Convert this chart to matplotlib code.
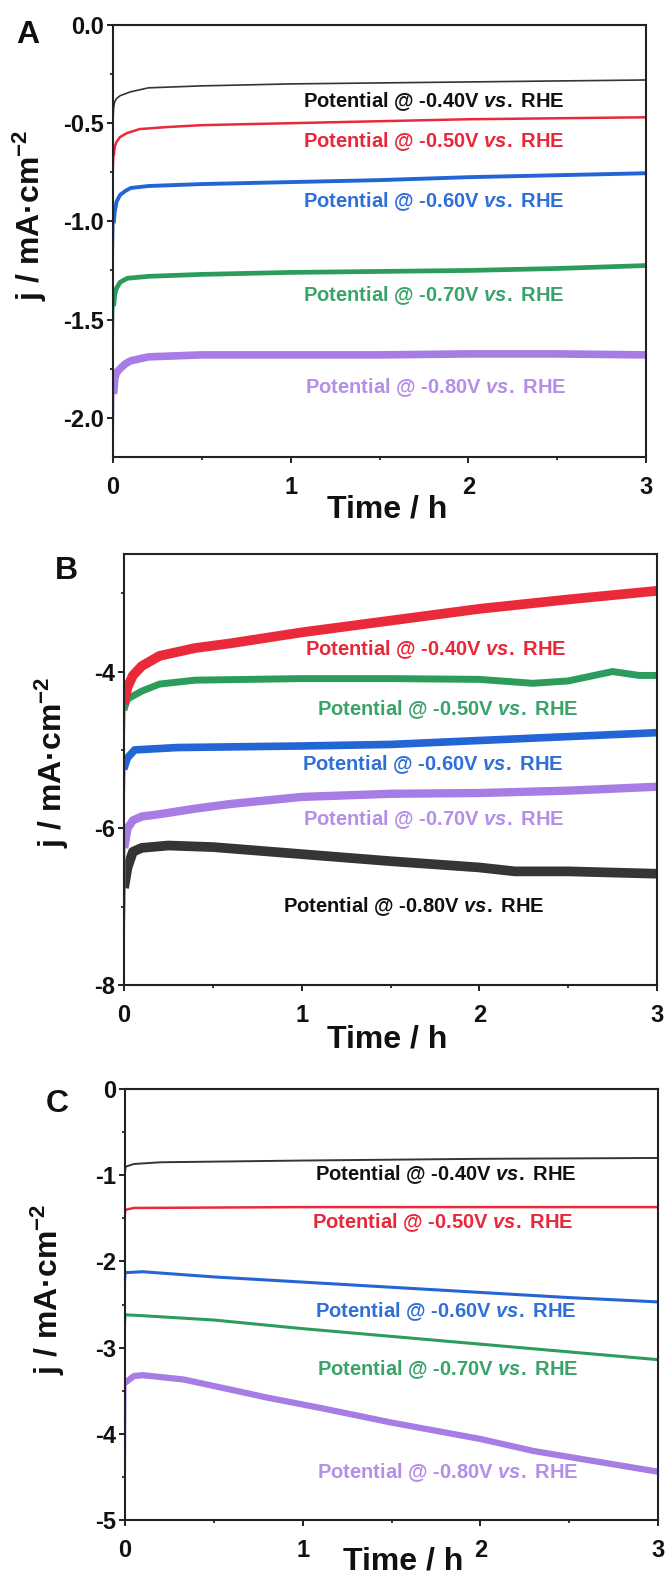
import matplotlib
matplotlib.use("Agg")
import matplotlib.pyplot as plt
from matplotlib.ticker import MultipleLocator, FormatStrFormatter

plt.rcParams['font.family'] = ['Liberation Sans', 'DejaVu Sans']
plt.rcParams['font.weight'] = 'bold'
plt.rcParams['axes.unicode_minus'] = False
plt.rcParams['mathtext.fontset'] = 'custom'
plt.rcParams['mathtext.rm'] = 'Liberation Sans:bold'
plt.rcParams['mathtext.bf'] = 'Liberation Sans:bold'
plt.rcParams['mathtext.it'] = 'Liberation Sans:bold:italic'
plt.rcParams['mathtext.default'] = 'rm'

W, H, DPI = 668, 1578, 100

# ---------------- data: chronoamperometry, current density vs time ----------------
# Panel A
a_black_t = [0, 0.005, 0.01, 0.02, 0.04, 0.07, 0.1, 0.2, 0.5, 1.0, 1.5, 2.0, 2.5, 3.0]
a_black_j = [-0.50, -0.41, -0.39, -0.375, -0.36, -0.35, -0.34, -0.32, -0.31, -0.30, -0.295, -0.29, -0.285, -0.28]
a_red_t = [0, 0.005, 0.01, 0.02, 0.04, 0.08, 0.15, 0.3, 0.5, 1.0, 1.5, 2.0, 2.5, 3.0]
a_red_j = [-0.80, -0.66, -0.62, -0.595, -0.57, -0.55, -0.53, -0.52, -0.51, -0.50, -0.49, -0.48, -0.475, -0.47]
a_blue_t = [0, 0.005, 0.01, 0.02, 0.04, 0.07, 0.1, 0.2, 0.5, 1.0, 1.5, 2.0, 2.5, 3.0]
a_blue_j = [-1.25, -1.00, -0.95, -0.90, -0.865, -0.845, -0.83, -0.82, -0.81, -0.80, -0.79, -0.775, -0.765, -0.755]
a_green_t = [0, 0.005, 0.01, 0.02, 0.04, 0.08, 0.2, 0.5, 1.0, 1.5, 2.0, 2.5, 3.0]
a_green_j = [-1.65, -1.42, -1.37, -1.34, -1.31, -1.29, -1.28, -1.27, -1.26, -1.255, -1.25, -1.24, -1.225]
a_purple_t = [0, 0.005, 0.01, 0.02, 0.04, 0.07, 0.1, 0.2, 0.5, 1.0, 1.5, 2.0, 2.5, 3.0]
a_purple_j = [-2.2, -1.86, -1.80, -1.77, -1.75, -1.725, -1.71, -1.69, -1.68, -1.68, -1.68, -1.675, -1.675, -1.68]

# Panel B
b_red_t = [0, 0.005, 0.02, 0.05, 0.1, 0.2, 0.4, 0.6, 1.0, 1.5, 2.0, 2.5, 3.0]
b_red_j = [-4.5, -4.35, -4.2, -4.05, -3.93, -3.8, -3.7, -3.64, -3.5, -3.35, -3.2, -3.08, -2.97]
b_green_t = [0, 0.005, 0.02, 0.1, 0.2, 0.4, 1.0, 1.5, 2.0, 2.3, 2.5, 2.75, 2.9, 3.0]
b_green_j = [-5.0, -4.45, -4.35, -4.25, -4.16, -4.11, -4.09, -4.09, -4.1, -4.15, -4.12, -4.0, -4.05, -4.05]
b_blue_t = [0, 0.005, 0.02, 0.06, 0.3, 1.0, 1.5, 2.0, 2.5, 3.0]
b_blue_j = [-5.8, -5.2, -5.1, -5.0, -4.97, -4.95, -4.93, -4.88, -4.83, -4.78]
b_purple_t = [0, 0.005, 0.02, 0.05, 0.1, 0.2, 0.4, 0.6, 1.0, 1.5, 2.0, 2.5, 3.0]
b_purple_j = [-8.0, -6.2, -6.0, -5.9, -5.85, -5.82, -5.75, -5.69, -5.6, -5.56, -5.55, -5.52, -5.47]
b_black_t = [0, 0.005, 0.02, 0.05, 0.1, 0.25, 0.5, 1.0, 1.5, 2.0, 2.2, 2.5, 3.0]
b_black_j = [-7.5, -6.7, -6.5, -6.3, -6.25, -6.22, -6.24, -6.33, -6.42, -6.5, -6.55, -6.55, -6.58]

# Panel C
c_black_t = [0, 0.005, 0.05, 0.2, 1.0, 2.0, 3.0]
c_black_j = [-1.0, -0.9, -0.87, -0.85, -0.83, -0.81, -0.80]
c_red_t = [0, 0.005, 0.05, 1.0, 2.0, 3.0]
c_red_j = [-1.5, -1.4, -1.38, -1.37, -1.37, -1.37]
c_blue_t = [0, 0.005, 0.1, 0.5, 1.0, 1.5, 2.0, 2.5, 3.0]
c_blue_j = [-2.3, -2.13, -2.12, -2.18, -2.24, -2.30, -2.36, -2.42, -2.47]
c_green_t = [0, 0.005, 0.1, 0.5, 1.0, 1.5, 2.0, 2.5, 3.0]
c_green_j = [-2.8, -2.62, -2.63, -2.68, -2.78, -2.87, -2.96, -3.05, -3.14]
c_purple_t = [0, 0.005, 0.05, 0.1, 0.33, 0.6, 0.8, 1.1, 1.5, 2.0, 2.3, 2.65, 3.0]
c_purple_j = [-5.0, -3.4, -3.33, -3.32, -3.37, -3.49, -3.58, -3.70, -3.87, -4.06, -4.2, -4.32, -4.44]

potentials = ["-0.40", "-0.50", "-0.60", "-0.70", "-0.80"]

# ---------------- styling ----------------
COL = {
    'black': '#353535', 'red': '#ea2a3a', 'blue': '#2365d4',
    'green': '#2c9c5c', 'purple': '#a77ce4',
}
TXT = {
    'black': '#111111', 'red': '#e8283a', 'blue': '#2f6fd9',
    'green': '#3aa36a', 'purple': '#b48ee8',
}

fig = plt.figure(figsize=(W / DPI, H / DPI), dpi=DPI)


def px_axes(l, r, t, b):
    return fig.add_axes([l / W, 1 - b / H, (r - l) / W, (b - t) / H])


def style_axes(ax, ylim, ymaj, ymin, yfmt):
    ax.set_xlim(0, 3)
    ax.set_ylim(*ylim)
    ax.xaxis.set_major_locator(MultipleLocator(1))
    ax.xaxis.set_minor_locator(MultipleLocator(0.5))
    ax.yaxis.set_major_locator(MultipleLocator(ymaj))
    ax.yaxis.set_minor_locator(MultipleLocator(ymin))
    ax.yaxis.set_major_formatter(FormatStrFormatter(yfmt))
    for s in ax.spines.values():
        s.set_linewidth(1.5)
        s.set_color('#222222')
    ax.tick_params(which='major', direction='out', length=4.5, width=1.3,
                   labelsize=17, colors='#111111')
    ax.tick_params(which='minor', direction='out', length=2.5, width=1.1)
    ax.tick_params(axis='x', which='major', pad=9)
    ax.tick_params(axis='y', which='major', pad=2)
    for lab in ax.get_xticklabels() + ax.get_yticklabels():
        lab.set_fontweight('bold')


def trace(ax, t, j, color, lw):
    # thin initial spike, then the measured trace
    ax.plot(t[:2], j[:2], color=color, lw=1.0, solid_capstyle='butt', clip_on=True)
    ax.plot(t[1:], j[1:], color=color, lw=lw, solid_joinstyle='round', clip_on=True)


def label(x, y, pot, color, size=14.5):
    fig.text(x / W, 1 - y / H, f"Potential @ {pot}V $\\mathit{{vs.}}$ RHE",
             color=color, fontsize=size, fontweight='bold', ha='left', va='center')


def fig_text(x, y, s, size, rot=0):
    fig.text(x / W, 1 - y / H, s, fontsize=size, fontweight='bold', rotation=rot,
             ha='center', va='center', color='#111111')


# ---------------- Panel A ----------------
axA = px_axes(113, 646, 25, 457)
style_axes(axA, (-2.2, 0.0), 0.5, 0.25, '%.1f')
trace(axA, a_black_t, a_black_j, COL['black'], 1.2)
trace(axA, a_red_t, a_red_j, COL['red'], 1.8)
trace(axA, a_blue_t, a_blue_j, COL['blue'], 2.8)
trace(axA, a_green_t, a_green_j, COL['green'], 3.4)
trace(axA, a_purple_t, a_purple_j, COL['purple'], 5.5)
for (y, c), p in zip([(102, 'black'), (142, 'red'), (202, 'blue'), (296, 'green'), (388, 'purple')], potentials):
    label(303 if c != 'purple' else 305, y, p, TXT[c])
fig_text(28, 35, "A", 23)
fig_text(30, 215, "j / mA·cm$^{-2}$", 23, rot=90)
fig_text(387, 510, "Time / h", 23)

# ---------------- Panel B ----------------
axB = px_axes(124, 657, 554, 985)
style_axes(axB, (-8.0, -2.5), 2, 1, '%d')
trace(axB, b_black_t, b_black_j, COL['black'], 7.0)
trace(axB, b_purple_t, b_purple_j, COL['purple'], 6.0)
trace(axB, b_blue_t, b_blue_j, COL['blue'], 5.5)
trace(axB, b_green_t, b_green_j, COL['green'], 5.0)
trace(axB, b_red_t, b_red_j, COL['red'], 7.0)
for (x, y, c), p in zip([(305, 650, 'red'), (317, 710, 'green'), (302, 765, 'blue'),
                         (303, 820, 'purple'), (283, 907, 'black')], potentials):
    label(x, y, p, TXT[c])
fig_text(66, 571, "B", 23)
fig_text(52, 762, "j / mA·cm$^{-2}$", 23, rot=90)
fig_text(387, 1040, "Time / h", 23)

# ---------------- Panel C ----------------
axC = px_axes(125, 658, 1089, 1520)
style_axes(axC, (-5.0, 0.0), 1, 0.5, '%d')
trace(axC, c_black_t, c_black_j, COL['black'], 1.4)
trace(axC, c_red_t, c_red_j, COL['red'], 1.8)
trace(axC, c_blue_t, c_blue_j, COL['blue'], 2.2)
trace(axC, c_green_t, c_green_j, COL['green'], 2.2)
trace(axC, c_purple_t, c_purple_j, COL['purple'], 4.5)
for (x, y, c), p in zip([(315, 1175, 'black'), (312, 1223, 'red'), (315, 1312, 'blue'),
                         (317, 1370, 'green'), (317, 1473, 'purple')], potentials):
    label(x, y, p, TXT[c])
fig_text(57, 1104, "C", 23)
fig_text(48, 1289, "j / mA·cm$^{-2}$", 23, rot=90)
fig_text(403, 1561, "Time / h", 23)

fig.savefig("out.png", dpi=DPI)
